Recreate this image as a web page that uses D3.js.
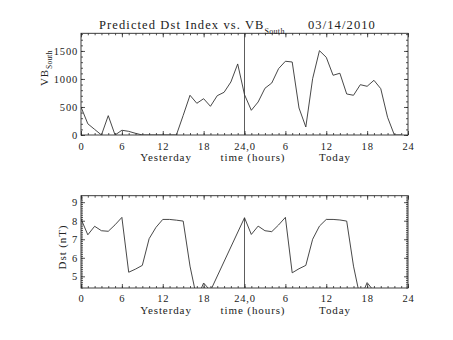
<!DOCTYPE html>
<html>
<head>
<meta charset="utf-8">
<script src="https://cdn.jsdelivr.net/npm/d3@7"></script>
<style>
  html, body { margin: 0; padding: 0; background: #fff; }
  svg { display: block; }
  text { font-family: "Liberation Serif", "DejaVu Serif", serif; fill: #222; }
</style>
</head>
<body>
<svg id="chart" width="453" height="340"></svg>
<script>
// Hourly VB_South, hours 0..47 (yesterday 0-23, today 24-47)
const vbHours = d3.range(0, 48);
const vbValues = [
  500, 200, 100, 0, 345, 0, 85, 65, 30, 0, 0, 0,
  0, 0, 0, 350, 709, 566, 648, 512, 702, 762, 946, 1268,
  720, 441, 589, 834, 928, 1184, 1316, 1303, 482, 143, 1005, 1505,
  1387, 1066, 1102, 732, 709, 898, 869, 976, 827, 316, 0, 0
];

// Predicted Dst (nT); no predictions between hour 19 and hour 24
const dstHours = [
  0, 1, 2, 3, 4, 5, 6, 7, 8, 9, 10, 11, 12, 13, 14, 15, 16, 17, 18, 19,
  24, 25, 26, 27, 28, 29, 30, 31, 32, 33, 34, 35, 36, 37, 38, 39, 40, 41, 42, 43
];
const dstValues = [
  8.10, 7.24, 7.70, 7.46, 7.43, 7.78, 8.18, 5.22, 5.39, 5.59, 7.03, 7.64, 8.07, 8.07, 8.03, 7.98, 5.55, 3.80, 4.64, 4.22,
  8.16, 7.26, 7.71, 7.46, 7.41, 7.77, 8.18, 5.19, 5.41, 5.59, 7.00, 7.71, 8.07, 8.07, 8.04, 7.98, 5.55, 3.80, 4.66, 4.20
];

const xTicks = [0, 6, 12, 18, 24, 30, 36, 42, 48];
const xTickLabels = ["0", "6", "12", "18", "24,0", "6", "12", "18", "24"];
const vbTicks = [0, 500, 1000, 1500];
const dstTicks = [5, 6, 7, 8, 9];

const svg = d3.select("#chart");
const left = 81, right = 408;

const x = d3.scaleLinear().domain([0, 48]).range([left, right]);
const yVB = d3.scaleLinear().domain([0, 1815]).range([135, 33.3]);
const yDst = d3.scaleLinear().domain([4.37, 9.35]).range([288, 195.7]);

const ink = "#2a2a2a";
const lineInk = "#333";
const tickFont = "10.5px";

function panel(y, ticks, minorStep, xLabelPad, clipId) {
  const [y0, y1] = y.range();
  const g = svg.append("g");

  // frame
  g.append("rect")
    .attr("x", left).attr("y", y1)
    .attr("width", right - left).attr("height", y0 - y1)
    .attr("fill", "none").attr("stroke", ink).attr("stroke-width", 0.9);

  const minorX = d3.range(0, 49);
  const d = y.domain();
  const minorY = d3.range(Math.ceil(d[0] / minorStep) * minorStep, d[1], minorStep)
    .map(v => +v.toFixed(4));

  // minor ticks, all four sides, pointing inward
  g.append("g").attr("transform", `translate(0,${y0})`)
    .call(d3.axisBottom(x).tickValues(minorX).tickSizeInner(-2).tickSizeOuter(0).tickFormat(""));
  g.append("g").attr("transform", `translate(0,${y1})`)
    .call(d3.axisTop(x).tickValues(minorX).tickSizeInner(-2).tickSizeOuter(0).tickFormat(""));
  g.append("g").attr("transform", `translate(${left},0)`)
    .call(d3.axisLeft(y).tickValues(minorY).tickSizeInner(-2).tickSizeOuter(0).tickFormat(""));
  g.append("g").attr("transform", `translate(${right},0)`)
    .call(d3.axisRight(y).tickValues(minorY).tickSizeInner(-2).tickSizeOuter(0).tickFormat(""));

  // major ticks with labels
  g.append("g").attr("transform", `translate(0,${y0})`)
    .call(d3.axisBottom(x).tickValues(xTicks).tickSizeInner(-4).tickSizeOuter(0).tickPadding(xLabelPad)
      .tickFormat((v, i) => xTickLabels[i]));
  g.append("g").attr("transform", `translate(0,${y1})`)
    .call(d3.axisTop(x).tickValues(xTicks).tickSizeInner(-4).tickSizeOuter(0).tickFormat(""));
  g.append("g").attr("transform", `translate(${left},0)`)
    .call(d3.axisLeft(y).tickValues(ticks).tickSizeInner(-4).tickSizeOuter(0).tickPadding(3)
      .tickFormat(d3.format("d")));
  g.append("g").attr("transform", `translate(${right},0)`)
    .call(d3.axisRight(y).tickValues(ticks).tickSizeInner(-4).tickSizeOuter(0).tickFormat(""));

  g.selectAll(".domain").remove();
  g.selectAll(".tick line").attr("stroke", ink).attr("stroke-width", 0.8);
  g.selectAll(".tick text")
    .attr("fill", ink)
    .style("font-size", tickFont)
    .style("font-family", "'Liberation Serif', serif")
    .style("letter-spacing", "0.8px");

  // clip region for the data line
  svg.append("clipPath").attr("id", clipId)
    .append("rect").attr("x", left).attr("y", y1)
    .attr("width", right - left).attr("height", y0 - y1);
  return g;
}

// ---------- top panel: VB_South ----------
const gTop = panel(yVB, vbTicks, 100, 8, "clipTop");

gTop.append("line")
  .attr("x1", x(24)).attr("x2", x(24))
  .attr("y1", yVB.range()[1]).attr("y2", yVB.range()[0])
  .attr("stroke", lineInk).attr("stroke-width", 0.8);

const vbLine = d3.line().x((d, i) => x(vbHours[i])).y(d => yVB(d));
gTop.append("path")
  .datum(vbValues)
  .attr("clip-path", "url(#clipTop)")
  .attr("d", vbLine)
  .attr("fill", "none").attr("stroke", lineInk).attr("stroke-width", 0.9);

// ---------- bottom panel: Dst ----------
const gBot = panel(yDst, dstTicks, 0.1, 6.5, "clipBot");

const i24 = dstHours.indexOf(24);
gBot.append("line")
  .attr("x1", x(24)).attr("x2", x(24))
  .attr("y1", yDst(dstValues[i24])).attr("y2", yDst.range()[0])
  .attr("stroke", lineInk).attr("stroke-width", 0.8);

const dstLine = d3.line().x((d, i) => x(dstHours[i])).y(d => yDst(d));
gBot.append("path")
  .datum(dstValues)
  .attr("clip-path", "url(#clipBot)")
  .attr("d", dstLine)
  .attr("fill", "none").attr("stroke", lineInk).attr("stroke-width", 0.9);

// ---------- text ----------
const lab = { "font-size": "11px", "letter-spacing": "0.9px" };
function addText(sel, str, attrs) {
  const t = sel.append("text").text(str);
  Object.entries(attrs).forEach(([k, v]) => t.attr(k, v));
  Object.entries(lab).forEach(([k, v]) => t.style(k, v));
  return t;
}

// title
const title = svg.append("text").attr("x", 99).attr("y", 28.5)
  .style("font-size", "12.5px").style("letter-spacing", "1.1px");
title.append("tspan").text("Predicted Dst Index vs. VB");
title.append("tspan").attr("dy", 5).style("font-size", "8px").style("letter-spacing", "0.3px").text("South");
svg.append("text").attr("x", 308).attr("y", 28.5)
  .style("font-size", "12.5px").style("letter-spacing", "1.1px").text("03/14/2010");

// x axis captions
addText(svg, "Yesterday", { x: 166, y: 161, "text-anchor": "middle" });
addText(svg, "time (hours)", { x: 253, y: 161, "text-anchor": "middle" });
addText(svg, "Today", { x: 335, y: 161, "text-anchor": "middle" });
addText(svg, "Yesterday", { x: 166, y: 313.5, "text-anchor": "middle" });
addText(svg, "time (hours)", { x: 253, y: 313.5, "text-anchor": "middle" });
addText(svg, "Today", { x: 335, y: 313.5, "text-anchor": "middle" });

// y axis captions
const yl1 = svg.append("text")
  .attr("transform", "translate(48,86) rotate(-90)")
  .style("font-size", "11px").style("letter-spacing", "0.9px");
yl1.append("tspan").text("VB");
yl1.append("tspan").attr("dy", 4).style("font-size", "7.5px").style("letter-spacing", "0.2px").text("South");

svg.append("text")
  .attr("transform", "translate(66,247) rotate(-90)")
  .attr("text-anchor", "middle")
  .style("font-size", "11px").style("letter-spacing", "0.9px")
  .text("Dst (nT)");
</script>
</body>
</html>
